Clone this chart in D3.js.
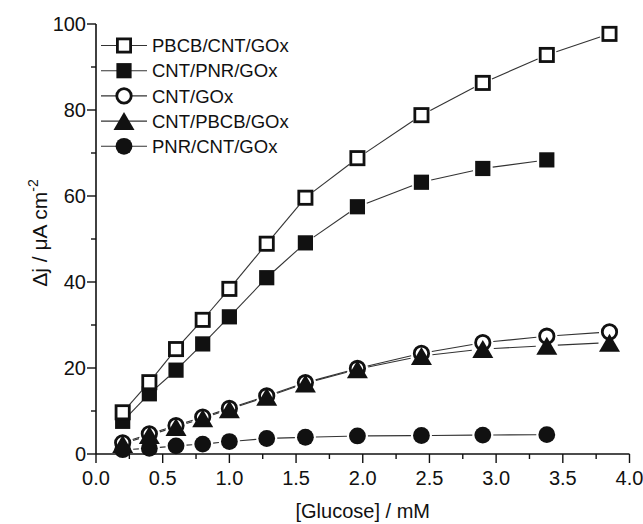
<!DOCTYPE html>
<html>
<head>
<meta charset="utf-8">
<script src="https://cdn.jsdelivr.net/npm/d3@7"></script>
<style>
  html, body { margin: 0; padding: 0; background: #fff; }
  svg { display: block; }
  text { font-family: "Liberation Sans", Arial, Helvetica, sans-serif; fill: #111; }
</style>
</head>
<body>
<svg id="chart" width="643" height="524"></svg>
<script>
// ---- data ----
const glucose = [0.2, 0.4, 0.6, 0.8, 1.0, 1.28, 1.57, 1.96, 2.44, 2.9, 3.38, 3.85];
const seriesNames = ["PBCB/CNT/GOx", "CNT/PNR/GOx", "CNT/GOx", "CNT/PBCB/GOx", "PNR/CNT/GOx"];
const pbcbCntGox = [9.7, 16.7, 24.4, 31.2, 38.4, 48.9, 59.6, 68.8, 78.8, 86.3, 92.8, 97.7];
const cntPnrGox  = [7.6, 14.0, 19.5, 25.6, 31.9, 41.0, 49.1, 57.5, 63.2, 66.4, 68.4];
const cntGox     = [2.6, 4.7, 6.6, 8.6, 10.6, 13.5, 16.6, 19.9, 23.4, 25.9, 27.4, 28.4];
const cntPbcbGox = [2.3, 4.4, 6.3, 8.3, 10.4, 13.3, 16.4, 19.7, 22.8, 24.4, 25.2, 25.9];
const pnrCntGox  = [1.0, 1.3, 1.9, 2.3, 2.9, 3.6, 3.9, 4.2, 4.3, 4.4, 4.5];
const xTicks = [0, 0.5, 1.0, 1.5, 2.0, 2.5, 3.0, 3.5, 4.0];
const yTicks = [0, 20, 40, 60, 80, 100];
const xLabel = "[Glucose] / mM";

// ---- setup ----
const svg = d3.select("#chart");
const x = d3.scaleLinear().domain([0, 4]).range([96, 629.5]);
const y = d3.scaleLinear().domain([0, 100]).range([454, 24]);
const ink = "#111";

const seriesValues = [pbcbCntGox, cntPnrGox, cntGox, cntPbcbGox, pnrCntGox];
const symbols = ["openSquare", "filledSquare", "openCircle", "triangle", "filledCircle"];
const radius = { openSquare: 8, filledSquare: 8, openCircle: 8.5, triangle: 9, filledCircle: 8.5 };

function drawMarker(g, type, cx, cy) {
  if (type === "openSquare") {
    g.append("rect").attr("x", cx - 6.6).attr("y", cy - 6.6).attr("width", 13.2).attr("height", 13.2)
      .attr("fill", "#fff").attr("stroke", ink).attr("stroke-width", 2.8);
  } else if (type === "filledSquare") {
    g.append("rect").attr("x", cx - 7.6).attr("y", cy - 7.6).attr("width", 15.2).attr("height", 15.2)
      .attr("fill", ink);
  } else if (type === "openCircle") {
    g.append("circle").attr("cx", cx).attr("cy", cy).attr("r", 7.2)
      .attr("fill", "#fff").attr("stroke", ink).attr("stroke-width", 2.8);
  } else if (type === "filledCircle") {
    g.append("circle").attr("cx", cx).attr("cy", cy).attr("r", 8.4).attr("fill", ink);
  } else if (type === "triangle") {
    const w = 10.5, h = 9;
    g.append("path").attr("d", `M${cx},${cy - h}L${cx + w},${cy + h}L${cx - w},${cy + h}Z`).attr("fill", ink);
  }
}

// ---- axes ----
const axes = svg.append("g");
axes.append("line").attr("x1", x(0)).attr("x2", x(4)).attr("y1", y(0)).attr("y2", y(0))
  .attr("stroke", ink).attr("stroke-width", 1.6);
axes.append("line").attr("x1", x(0)).attr("x2", x(0)).attr("y1", y(0)).attr("y2", y(100))
  .attr("stroke", ink).attr("stroke-width", 1.6);

// x ticks
for (let i = 0; i < xTicks.length; i++) {
  const v = xTicks[i];
  axes.append("line").attr("x1", x(v)).attr("x2", x(v)).attr("y1", y(0)).attr("y2", y(0) + 9)
    .attr("stroke", ink).attr("stroke-width", 1.4);
  axes.append("text").attr("x", x(v)).attr("y", 485).attr("text-anchor", "middle")
    .attr("font-size", 20).text(d3.format(".1f")(v));
  if (i < xTicks.length - 1) {
    const m = (v + xTicks[i + 1]) / 2;
    axes.append("line").attr("x1", x(m)).attr("x2", x(m)).attr("y1", y(0)).attr("y2", y(0) + 5)
      .attr("stroke", ink).attr("stroke-width", 1.4);
  }
}
// y ticks
for (let i = 0; i < yTicks.length; i++) {
  const v = yTicks[i];
  axes.append("line").attr("x1", x(0) - 9).attr("x2", x(0)).attr("y1", y(v)).attr("y2", y(v))
    .attr("stroke", ink).attr("stroke-width", 1.4);
  axes.append("text").attr("x", 86).attr("y", y(v)).attr("dy", "0.36em").attr("text-anchor", "end")
    .attr("font-size", 20).text(v);
  if (i < yTicks.length - 1) {
    const m = (v + yTicks[i + 1]) / 2;
    axes.append("line").attr("x1", x(0) - 5).attr("x2", x(0)).attr("y1", y(m)).attr("y2", y(m))
      .attr("stroke", ink).attr("stroke-width", 1.4);
  }
}

// axis titles
svg.append("text").attr("x", x(2)).attr("y", 518).attr("text-anchor", "middle")
  .attr("font-size", 20).text(xLabel);
const yt = svg.append("text").attr("transform", "translate(47,233) rotate(-90)")
  .attr("text-anchor", "middle").attr("font-size", 21);
yt.append("tspan").text("\u0394j / \u03BCA cm");
yt.append("tspan").attr("dy", -9).attr("font-size", 14).text("-2");

// ---- lines with gaps ----
const linesG = svg.append("g");
seriesValues.forEach((vals, s) => {
  const r = radius[symbols[s]] + 2;
  for (let i = 0; i < vals.length - 1; i++) {
    const x1 = x(glucose[i]), y1 = y(vals[i]), x2 = x(glucose[i + 1]), y2 = y(vals[i + 1]);
    const dx = x2 - x1, dy = y2 - y1, len = Math.hypot(dx, dy);
    if (len <= 2 * r) continue;
    const ux = dx / len, uy = dy / len;
    linesG.append("line")
      .attr("x1", x1 + ux * r).attr("y1", y1 + uy * r)
      .attr("x2", x2 - ux * r).attr("y2", y2 - uy * r)
      .attr("stroke", "#333").attr("stroke-width", 1.1);
  }
});

// ---- markers (drawing order) ----
const order = [4, 2, 3, 1, 0];
const marksG = svg.append("g");
order.forEach(s => {
  const vals = seriesValues[s];
  vals.forEach((v, i) => drawMarker(marksG, symbols[s], x(glucose[i]), y(v)));
});

// ---- legend ----
const leg = svg.append("g");
seriesNames.forEach((name, i) => {
  const cy = 45.5 + i * 25.2;
  leg.append("line").attr("x1", 101).attr("x2", 147).attr("y1", cy).attr("y2", cy)
    .attr("stroke", "#333").attr("stroke-width", 1.1);
  drawMarker(leg, symbols[i], 124, cy);
  leg.append("text").attr("x", 152).attr("y", cy).attr("dy", "0.36em")
    .attr("font-size", 18.5).text(name);
});
</script>
</body>
</html>
